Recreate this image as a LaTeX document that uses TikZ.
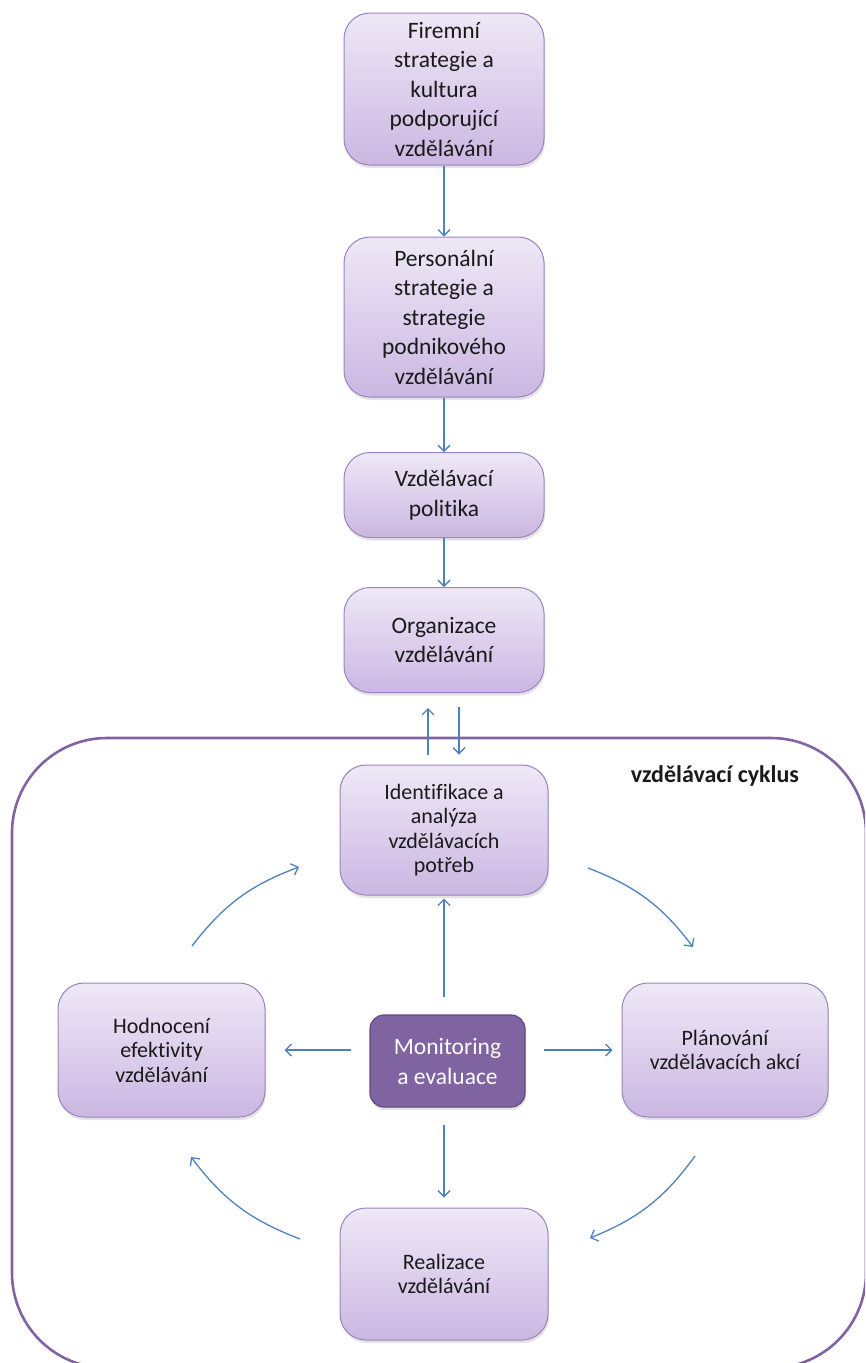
\documentclass[tikz,border=0pt]{standalone}
\usepackage{fontspec}
\setmainfont{Carlito}[Ligatures={NoCommon}]
\usetikzlibrary{arrows.meta,shadows}
\definecolor{boxtop}{HTML}{EEE8F6}
\definecolor{boxbot}{HTML}{CBB7E2}
\definecolor{boxline}{HTML}{9B83C0}
\definecolor{darkfill}{HTML}{8064A2}
\definecolor{darkline}{HTML}{5F4B80}
\definecolor{arrblue}{HTML}{4F81BD}
\definecolor{cycline}{HTML}{8064A2}
\definecolor{txt}{HTML}{1A1A1A}
\tikzset{
  pbox/.style={draw=boxline, line width=1pt, rounded corners=26pt,
    top color=boxtop, bottom color=boxbot, align=center, inner sep=0pt,
    text=txt, drop shadow={opacity=0.22, shadow xshift=1pt, shadow yshift=-3pt}},
  topfont/.style={font=\fontsize{23.5}{29.5}\selectfont},
  cycfont/.style={font=\fontsize{22}{24.5}\selectfont},
  darkbox/.style={draw=darkline, line width=1.2pt, rounded corners=14pt,
    fill=darkfill, align=center, inner sep=0pt, text=white,
    font=\fontsize{23.5}{30}\selectfont,
    drop shadow={opacity=0.22, shadow xshift=1pt, shadow yshift=-3pt}},
  arr/.style={draw=arrblue, line width=1.3pt, -{Straight Barb[length=6pt,width=12pt,line width=1.3pt]}},
  cycle/.style={draw=cycline, line width=2.6pt},
  lbl/.style={font=\bfseries\fontsize{24}{28}\selectfont, text=txt}
}
\begin{document}
\begin{tikzpicture}[x=1pt,y=-1pt]
\useasboundingbox (0,0) rectangle (865,1363);
\begin{scope}
\clip (0,0) rectangle (865,1363);
\draw[cycle, rounded corners=95pt] (12,738) rectangle (866,1368);
\end{scope}
\node[lbl] (lab) at (715,776) {vzdělávací cyklus};

\node[pbox, topfont, minimum width=200pt, minimum height=152pt] (n1) at (444,89) {Firemní\\strategie a\\kultura\\podporující\\vzdělávání};
\node[pbox, topfont, minimum width=200pt, minimum height=160pt] (n2) at (444,317) {Personální\\strategie a\\strategie\\podnikového\\vzdělávání};
\node[pbox, topfont, minimum width=200pt, minimum height=85pt] (n3) at (444,495) {Vzdělávací\\politika};
\node[pbox, topfont, minimum width=200pt, minimum height=105pt] (n4) at (444,640) {Organizace\\vzdělávání};
\node[pbox, cycfont, minimum width=208pt, minimum height=130pt] (n5) at (444,830) {Identifikace a\\analýza\\vzdělávacích\\potřeb};
\node[pbox, cycfont, minimum width=207pt, minimum height=134pt] (n6) at (161.5,1050) {Hodnocení\\efektivity\\vzdělávání};
\node[darkbox, minimum width=155pt, minimum height=92pt] (n7) at (447.5,1061) {Monitoring\\a evaluace};
\node[pbox, cycfont, minimum width=206pt, minimum height=134pt] (n8) at (725,1050) {Plánování\\vzdělávacích akcí};
\node[pbox, cycfont, minimum width=208pt, minimum height=132pt] (n9) at (444,1274) {Realizace\\vzdělávání};

\draw[arr] (n1) -- (n2);
\draw[arr] (n2) -- (n3);
\draw[arr] (n3) -- (n4);
\draw[arr, shorten <=10pt, shorten >=15pt] ([xshift=-16pt]n5.north) -- ([xshift=-16pt]n4.south);
\draw[arr, shorten <=14pt, shorten >=10pt] ([xshift=15pt]n4.south) -- ([xshift=15pt]n5.north);

\draw[arr, shorten <=17pt, shorten >=3pt] (n7.north -| n5.south) -- (n5.south);
\draw[arr, shorten <=18pt, shorten >=19pt] (n6.east -| n7.west) -- (n6.east);
\draw[arr, shorten <=18pt, shorten >=9pt] (n8.west -| n7.east) -- (n8.west);
\draw[arr, shorten <=17pt, shorten >=10pt] (n7.south -| n9.north) -- (n9.north);

\coordinate (a1) at (192,946);
\coordinate (b1) at (299,867);
\coordinate (a2) at (588,868);
\coordinate (b2) at (693,947);
\coordinate (a3) at (695,1156);
\coordinate (b3) at (590,1238);
\coordinate (a4) at (300,1239);
\coordinate (b4) at (191,1157);
\draw[arr] (a1) to[bend left=16] (b1);
\draw[arr] (a2) to[bend left=16] (b2);
\draw[arr] (a3) to[bend left=16] (b3);
\draw[arr] (a4) to[bend left=16] (b4);
\end{tikzpicture}
\end{document}
